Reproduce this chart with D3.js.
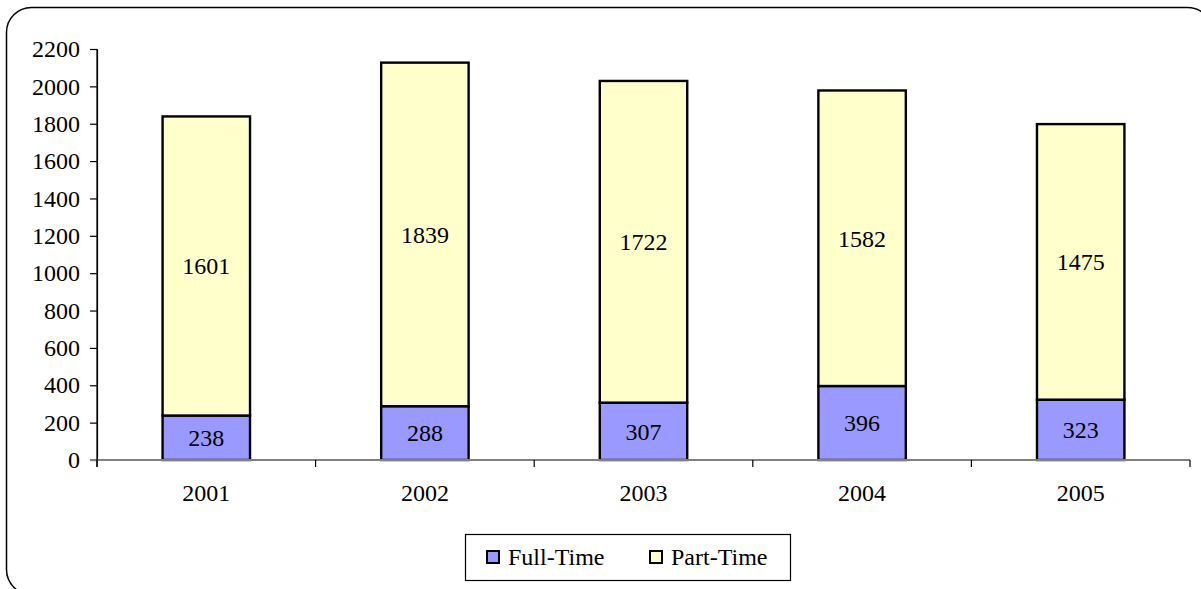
<!DOCTYPE html>
<html>
<head>
<meta charset="utf-8">
<script src="https://cdn.jsdelivr.net/npm/d3@7/dist/d3.min.js"></script>
<style>
  html, body { margin: 0; padding: 0; background: #fff; }
  svg { display: block; }
  text { font-family: "Liberation Serif", "Times New Roman", serif; }
</style>
</head>
<body>
<svg id="chart" width="1201" height="589"></svg>
<script>
// Enrolment by year, split into full-time and part-time students
const years = ["2001", "2002", "2003", "2004", "2005"];
const fullTime = [238, 288, 307, 396, 323];
const partTime = [1601, 1839, 1722, 1582, 1475];
const seriesNames = ["Full-Time", "Part-Time"];
const seriesColors = ["#9999FF", "#FFFFCC"];
const yTicks = [0, 200, 400, 600, 800, 1000, 1200, 1400, 1600, 1800, 2000, 2200];

const svg = d3.select("#chart");
const fontSize = 24;

// Rounded frame around the whole chart
svg.append("rect")
  .attr("x", 6.5).attr("y", 7.5)
  .attr("width", 1206).attr("height", 587)
  .attr("rx", 25).attr("ry", 25)
  .attr("fill", "#fff").attr("stroke", "#000").attr("stroke-width", 1.5);

const plot = { left: 97, right: 1190, top: 49, bottom: 460 };

const x = d3.scaleBand().domain(years).range([plot.left, plot.right]).paddingInner(0.6).paddingOuter(0.3);
const xTickScale = d3.scaleLinear().domain([0, years.length]).range([plot.left, plot.right]);
const y = d3.scaleLinear().domain([0, 2200]).range([plot.bottom, plot.top]);

// Stack the two series
const rows = years.map((yr, i) => ({ year: yr, "Full-Time": fullTime[i], "Part-Time": partTime[i] }));
const stacked = d3.stack().keys(seriesNames)(rows);

// Y axis
const yAxis = svg.append("g")
  .attr("transform", `translate(${plot.left},0)`)
  .attr("font-family", null)
  .call(d3.axisLeft(y).tickValues(yTicks).tickFormat(d3.format("d")).tickSize(7).tickSizeOuter(0).tickPadding(10));
yAxis.attr("font-family", null).attr("font-size", null);
yAxis.select(".domain").attr("stroke", "#000").attr("stroke-width", 1.2);
yAxis.selectAll(".tick line").attr("stroke", "#000").attr("stroke-width", 1.2);
yAxis.selectAll(".tick text")
  .attr("font-size", fontSize).attr("fill", "#000");

// Bars
const groups = svg.append("g").selectAll("g")
  .data(stacked).join("g")
  .attr("fill", (d, i) => seriesColors[i]);

groups.selectAll("rect")
  .data(d => d)
  .join("rect")
  .attr("x", d => x(d.data.year))
  .attr("y", d => y(d[1]))
  .attr("width", x.bandwidth())
  .attr("height", d => y(d[0]) - y(d[1]))
  .attr("stroke", "#000")
  .attr("stroke-width", 2.4);

// Value labels centred in each segment
groups.selectAll("text")
  .data(d => d)
  .join("text")
  .attr("x", d => x(d.data.year) + x.bandwidth() / 2)
  .attr("y", d => y((d[0] + d[1]) / 2))
  .attr("dy", "0.35em")
  .attr("text-anchor", "middle")
  .attr("font-size", fontSize)
  .attr("fill", "#000")
  .text(d => d[1] - d[0]);

// X axis line with category separators
const xg = svg.append("g");
xg.append("line")
  .attr("x1", plot.left - 7).attr("x2", plot.right)
  .attr("y1", plot.bottom).attr("y2", plot.bottom)
  .attr("stroke", "#808080").attr("stroke-width", 2);
xg.selectAll("line.sep")
  .data(d3.range(years.length + 1))
  .join("line")
  .attr("class", "sep")
  .attr("x1", d => xTickScale(d)).attr("x2", d => xTickScale(d))
  .attr("y1", plot.bottom).attr("y2", plot.bottom + 7)
  .attr("stroke", "#000").attr("stroke-width", 1.2);
xg.selectAll("text")
  .data(years)
  .join("text")
  .attr("x", d => x(d) + x.bandwidth() / 2)
  .attr("y", 493)
  .attr("dy", "0.35em")
  .attr("text-anchor", "middle")
  .attr("font-size", fontSize)
  .attr("fill", "#000")
  .text(d => d);

// Y axis redrawn on top of the x axis line
svg.append("line")
  .attr("x1", plot.left).attr("x2", plot.left)
  .attr("y1", plot.top).attr("y2", plot.bottom + 7)
  .attr("stroke", "#000").attr("stroke-width", 1.2);

// Legend
const legend = svg.append("g");
legend.append("rect")
  .attr("x", 465.5).attr("y", 534.5).attr("width", 325).attr("height", 46)
  .attr("fill", "#fff").attr("stroke", "#000").attr("stroke-width", 1.2);
const legendX = [487, 650];
seriesNames.forEach((name, i) => {
  legend.append("rect")
    .attr("x", legendX[i]).attr("y", 551).attr("width", 12).attr("height", 12)
    .attr("fill", seriesColors[i]).attr("stroke", "#000").attr("stroke-width", 2);
  legend.append("text")
    .attr("x", legendX[i] + 21).attr("y", 557).attr("dy", "0.35em")
    .attr("font-size", fontSize).attr("fill", "#000")
    .text(name);
});
</script>
</body>
</html>
